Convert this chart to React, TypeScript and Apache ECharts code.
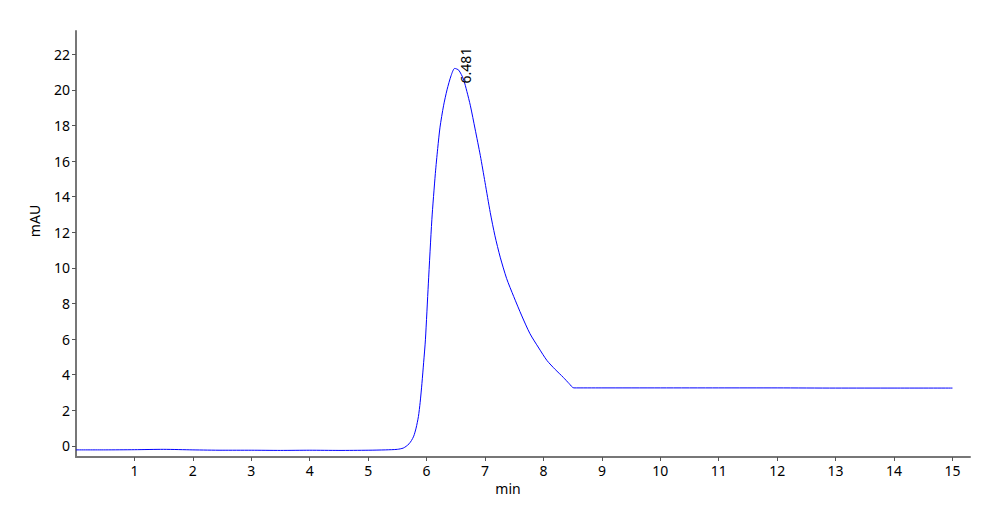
import React, { useEffect, useRef } from "react";
import * as echarts from "echarts";

const times = [0, 0.5, 1, 1.5, 2, 2.5, 3, 3.5, 4, 4.5, 5, 5.3, 5.5, 5.6, 5.65, 5.7, 5.74, 5.78, 5.82, 5.86, 5.89, 5.92, 5.95, 5.98, 6.03, 6.09, 6.15, 6.19, 6.23, 6.29, 6.35, 6.42, 6.481, 6.55, 6.63, 6.69, 6.75, 6.83, 6.92, 7.0, 7.09, 7.17, 7.26, 7.37, 7.49, 7.63, 7.77, 7.92, 8.06, 8.2, 8.34, 8.44, 8.52, 9, 10, 11, 12, 13, 14, 15];
const values = [-0.22, -0.22, -0.21, -0.19, -0.22, -0.24, -0.24, -0.25, -0.24, -0.25, -0.24, -0.22, -0.19, -0.12, -0.02, 0.12, 0.3, 0.55, 1.0, 1.65, 2.45, 3.5, 4.7, 5.96, 9.1, 12.7, 15.3, 16.7, 17.9, 19.1, 20.0, 20.8, 21.2, 21.1, 20.6, 19.9, 19.1, 17.8, 16.3, 14.8, 13.1, 11.8, 10.6, 9.4, 8.4, 7.3, 6.3, 5.5, 4.8, 4.3, 3.85, 3.5, 3.26, 3.26, 3.26, 3.26, 3.26, 3.25, 3.25, 3.25];
const xTicks = [1, 2, 3, 4, 5, 6, 7, 8, 9, 10, 11, 12, 13, 14, 15];
const yTicks = [0, 2, 4, 6, 8, 10, 12, 14, 16, 18, 20, 22];
const peakTime = 6.481;
const peakValue = 21.2;
const peakLabel = "6.481";

export default function App() {
  const ref = useRef<HTMLDivElement>(null);
  useEffect(() => {
    if (!ref.current) return;
    const chart = echarts.init(ref.current, null, { renderer: "svg" });
    const font = "Noto Sans";
    chart.setOption({
      animation: false,
      grid: { left: 76, right: 30, top: 31, bottom: 66, containLabel: false },
      xAxis: {
        type: "value",
        min: 0,
        max: 15.3,
        name: "min",
        nameLocation: "middle",
        nameGap: 24,
        nameTextStyle: { fontFamily: font, fontSize: 14, color: "#000", padding: [0, 30, 0, 0] },
        axisLine: { show: true, onZero: false, lineStyle: { color: "#777", width: 2 } },
        axisTick: { show: true, customValues: xTicks, length: 4, lineStyle: { color: "#555" } },
        axisLabel: { customValues: xTicks, fontFamily: font, fontSize: 14, color: "#000", margin: 6 },
        splitLine: { show: false },
      },
      yAxis: {
        type: "value",
        min: -0.62,
        max: 23.3,
        name: "mAU",
        nameLocation: "middle",
        nameGap: 35,
        nameTextStyle: { fontFamily: font, fontSize: 14, color: "#000", padding: [0, 0, 0, 46] },
        axisLine: { show: true, onZero: false, lineStyle: { color: "#777", width: 2 } },
        axisTick: { show: true, customValues: yTicks, length: 4, lineStyle: { color: "#555" } },
        axisLabel: { customValues: yTicks, fontFamily: font, fontSize: 14, color: "#000", margin: 6 },
        splitLine: { show: false },
      },
      series: [
        {
          type: "line",
          data: times.map((t, i) => [t, values[i]]),
          smooth: 0.25,
          showSymbol: false,
          lineStyle: { color: "#0000ff", width: 1 },
          markPoint: {
            symbol: "circle",
            symbolSize: 0,
            data: [
              {
                coord: [peakTime, peakValue],
                label: {
                  show: true,
                  formatter: peakLabel,
                  rotate: 90,
                  position: [11, 15],
                  align: "left",
                  verticalAlign: "middle",
                  fontFamily: font,
                  fontSize: 14,
                  color: "#000",
                },
              },
            ],
          },
        },
      ],
    });
    return () => chart.dispose();
  }, []);
  return <div ref={ref} style={{ width: 1000, height: 523, position: "absolute", left: 0, top: 0 }} />;
}
